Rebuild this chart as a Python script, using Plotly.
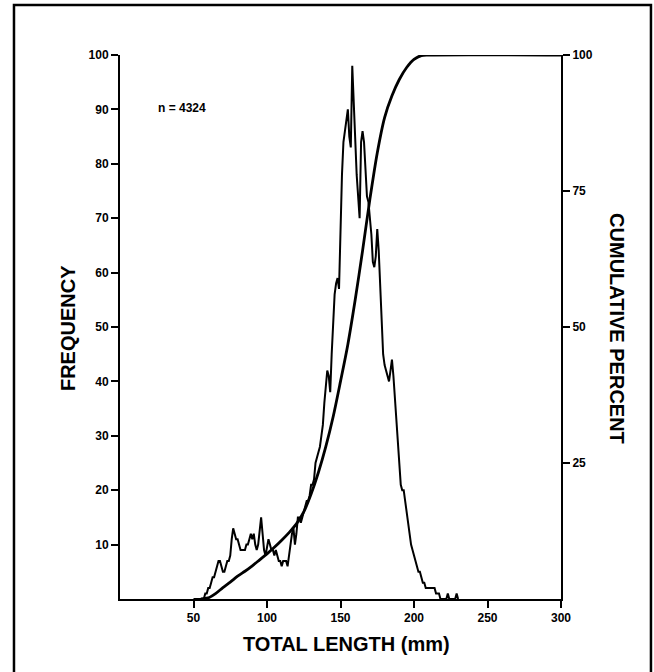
import plotly.graph_objects as go

# Length-frequency data, 1 mm classes
freq_lengths = list(range(50, 231))
frequency = [
    0, 0, 0, 0, 0, 0, 0, 0, 1, 1,            # 50-59
    2, 2, 3, 4, 4, 5, 6, 7, 7, 6,            # 60-69
    5, 5, 6, 7, 7, 8, 11, 13, 12, 11,        # 70-79
    11, 10, 9, 9, 9, 9, 10, 10, 11, 12,      # 80-89
    11, 12, 10, 9, 10, 12, 15, 12, 9, 8,     # 90-99
    10, 11, 10, 9, 9, 8, 9, 8, 7, 7,         # 100-109
    6, 7, 7, 7, 6, 8, 11, 12, 13, 10,        # 110-119
    12, 15, 15, 14, 15, 16, 17, 18, 18, 19,  # 120-129
    21, 21, 22, 25, 26, 27, 28, 30, 32, 36,  # 130-139
    40, 42, 41, 38, 45, 50, 56, 58, 59, 57,  # 140-149
    71, 78, 84, 86, 88, 90, 85, 83, 98, 90,  # 150-159
    83, 78, 74, 70, 84, 86, 84, 80, 74, 73,  # 160-169
    70, 67, 62, 61, 63, 68, 64, 57, 51, 45,  # 170-179
    43, 42, 41, 40, 42, 44, 41, 37, 32, 27,  # 180-189
    23, 21, 20, 20, 18, 16, 13, 11, 10, 9,   # 190-199
    8, 7, 6, 5, 5, 4, 3, 3, 2, 2,            # 200-209
    2, 2, 2, 2, 2, 1, 1, 1, 0, 0,            # 210-219
    0, 0, 0, 1, 0, 0, 0, 0, 0, 1,            # 220-229
    0,                                        # 230
]

# Smoothed cumulative percent curve
cum_lengths = [55, 60, 65, 70, 75, 80, 85, 90, 95, 100, 105, 110, 115,
               120, 125, 130, 135, 140, 145, 150, 155, 160, 165, 170,
               175, 180, 185, 190, 195, 200, 205, 210, 300]
cum_percent = [0, 0.2, 1.0, 2.1, 3.1, 4.2, 5.1, 6.1, 7.2, 8.3, 9.5, 10.8,
               12.2, 13.8, 16.0, 19.3, 23.3, 28.0, 33.5, 40.0, 46.8, 55.0,
               64.0, 73.5, 82.0, 88.5, 92.5, 95.5, 97.7, 99.2, 99.9, 100,
               100]

sample_label = "n = 4324"
x_ticks = [50, 100, 150, 200, 250, 300]
freq_ticks = [10, 20, 30, 40, 50, 60, 70, 80, 90, 100]
cum_ticks = [25, 50, 75, 100]

FONT = "Liberation Sans"
tick_font = dict(family=FONT, size=12, color="black", weight="bold")
title_font = dict(family=FONT, size=20, color="black", weight="bold")

fig = go.Figure()
fig.add_trace(go.Scatter(
    x=freq_lengths, y=frequency, mode="lines",
    line=dict(color="black", width=2), showlegend=False,
))
fig.add_trace(go.Scatter(
    x=cum_lengths, y=cum_percent, mode="lines", yaxis="y2",
    line=dict(color="black", width=2.8, shape="spline", smoothing=0.8),
    showlegend=False,
))

axis_common = dict(
    showgrid=False, zeroline=False, showline=True, linecolor="black",
    linewidth=2, ticks="outside", ticklen=7, tickwidth=1.5,
    tickcolor="black", tickfont=tick_font,
)
fig.update_layout(
    width=654, height=672,
    margin=dict(l=120, r=93, t=55, b=73),
    paper_bgcolor="white", plot_bgcolor="white",
    xaxis=dict(range=[0, 300], tickvals=x_ticks, **axis_common),
    yaxis=dict(range=[0, 100], tickvals=freq_ticks, **axis_common),
    yaxis2=dict(range=[0, 100], tickvals=cum_ticks, overlaying="y",
                side="right", **axis_common),
    annotations=[
        dict(text=sample_label, x=24.5, y=90.3, xref="x", yref="y",
             xanchor="left", yanchor="middle", showarrow=False,
             font=tick_font),
        dict(text="TOTAL LENGTH (mm)", x=0.514, y=-0.083, xref="paper",
             yref="paper", xanchor="center", yanchor="middle",
             showarrow=False, font=title_font),
        dict(text="FREQUENCY", x=-0.118, y=0.498, xref="paper",
             yref="paper", xanchor="center", yanchor="middle",
             textangle=-90, showarrow=False, font=title_font),
        dict(text="CUMULATIVE PERCENT", x=1.127, y=0.498, xref="paper",
             yref="paper", xanchor="center", yanchor="middle",
             textangle=90, showarrow=False, font=title_font),
    ],
    shapes=[
        dict(type="rect", xref="paper", yref="paper",
             x0=-0.2404, x1=1.204, y0=-0.2, y1=1.0919,
             line=dict(color="black", width=2.5), fillcolor="rgba(0,0,0,0)",
             layer="below"),
    ],
)

fig.write_html("out.html")
